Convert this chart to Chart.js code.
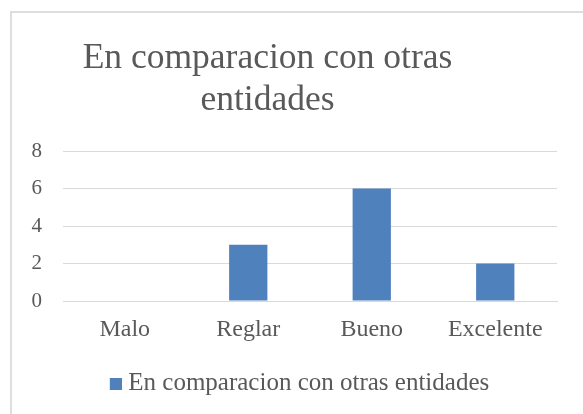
<!DOCTYPE html>
<html><head><meta charset="utf-8">
<script src="https://cdn.jsdelivr.net/npm/chart.js@4.4.1/dist/chart.umd.min.js"></script>
<style>
html,body{margin:0;padding:0;background:#fff;overflow:hidden}
#wrap{position:absolute;left:0;top:0;width:583px;height:414px;overflow:hidden}
#frame{position:absolute;left:10px;top:11px;width:620px;height:520px;border:2px solid #dedede;box-sizing:border-box}
canvas{position:absolute;left:0;top:0}
</style></head><body>
<div id="wrap"><div id="frame"></div><canvas id="c" width="583" height="414"></canvas></div>
<script>
const categories = ["Malo", "Reglar", "Bueno", "Excelente"];
const values = [0, 3, 6, 2];
const seriesName = "En comparacion con otras entidades";
const titleLines = ["En comparacion con otras", "entidades"];
const yTicks = [0, 2, 4, 6, 8];

const FONT = "'Liberation Serif', 'DejaVu Serif', serif";
const TXT = "#595959";
const BAR = "#4f81bd";

// legend marker: square drawn on the right half of a small canvas
const marker = document.createElement('canvas');
marker.width = 24; marker.height = 12;
(function(){ const g = marker.getContext('2d'); g.fillStyle = BAR; g.fillRect(12, 0, 12, 12); })();

const shiftPlugin = {
  id: 'shiftBoxes',
  afterLayout(chart) {
    if (chart.titleBlock) { chart.titleBlock.left -= 11; chart.titleBlock.right -= 11; }
    if (chart.legend) { chart.legend.left += 18; chart.legend.right += 18; }
  }
};

new Chart(document.getElementById('c'), {
  type: 'bar',
  data: {
    labels: categories,
    datasets: [{
      label: seriesName,
      data: values,
      backgroundColor: BAR,
      borderWidth: 0,
      categoryPercentage: 1,
      barPercentage: 0.31
    }]
  },
  plugins: [shiftPlugin],
  options: {
    responsive: false,
    animation: false,
    devicePixelRatio: 1,
    layout: { padding: { left: 0, right: 26, top: 0, bottom: 8 } },
    plugins: {
      tooltip: { enabled: false },
      title: {
        display: true,
        text: titleLines,
        color: TXT,
        font: { family: FONT, size: 35.5, weight: 'normal', lineHeight: 1.17 },
        padding: { top: 38, bottom: 30 }
      },
      legend: {
        display: true,
        position: 'bottom',
        labels: {
          color: TXT,
          font: { family: FONT, size: 25 },
          boxWidth: 12,
          boxHeight: 12,
          usePointStyle: true,
          pointStyle: marker,
          padding: 10
        }
      }
    },
    scales: {
      x: {
        grid: { display: false, drawTicks: false },
        border: { display: true, color: '#d9d9d9', width: 1 },
        ticks: { color: TXT, font: { family: FONT, size: 24 }, padding: 14 },
        afterFit: (s) => { s.height = 60; }
      },
      y: {
        min: 0, max: 8,
        afterBuildTicks: (s) => { s.ticks = yTicks.map(v => ({ value: v })); },
        grid: { color: '#d9d9d9', lineWidth: 1, drawTicks: false },
        border: { display: false },
        ticks: { color: TXT, font: { family: FONT, size: 21 }, padding: 21 },
        afterFit: (s) => { s.width = 63; }
      }
    }
  }
});
</script>
</body></html>
